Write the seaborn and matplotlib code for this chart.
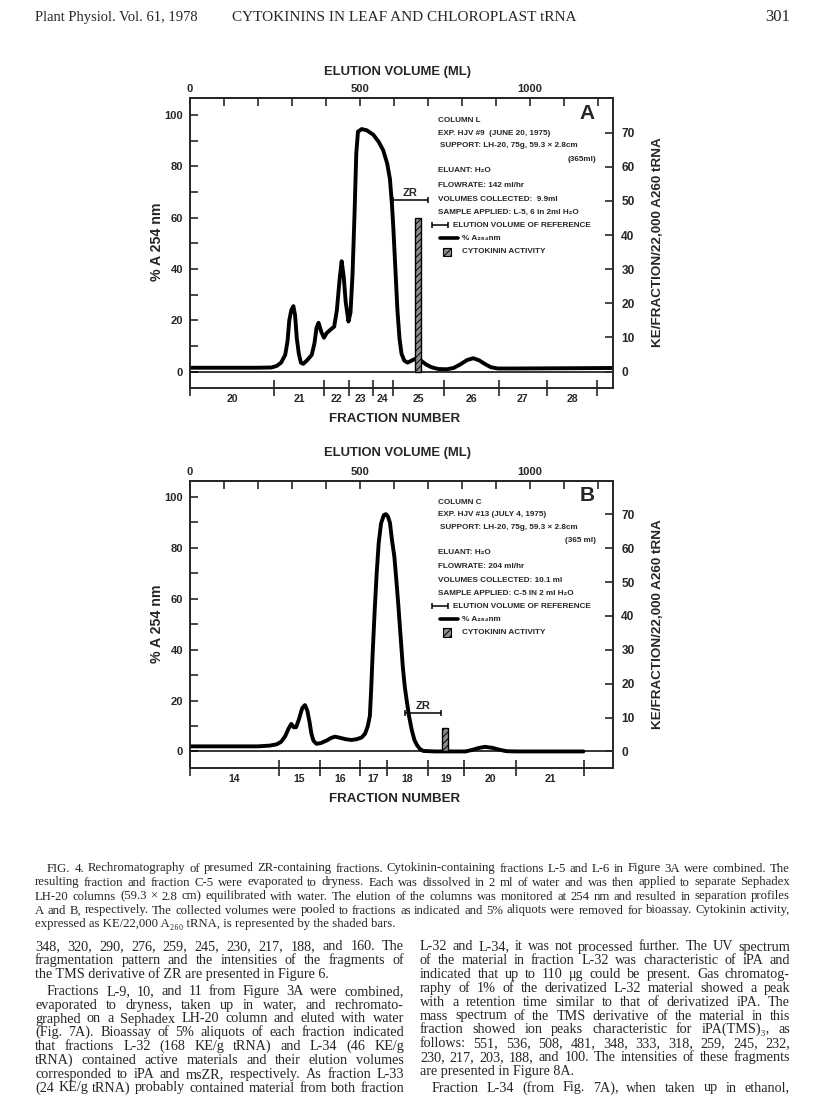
import matplotlib
matplotlib.use("Agg")
import matplotlib.pyplot as plt
import matplotlib.patches as mpatches
import pandas as pd
import seaborn as sns

W, H = 816, 1104

# ---- panel A: column L (elution volume in ml, % A254) ----
a_ml = [0, 200, 240, 255, 268, 280, 287, 292, 298, 304, 309, 314, 320, 326, 333, 345,
        358, 366, 372, 378, 386, 394, 402, 412, 424, 432, 440, 446, 452, 458, 466, 472,
        478, 484, 489, 494, 505, 520, 539, 555, 568, 580, 588, 594, 598, 604, 610, 616,
        622, 630, 640, 655, 668, 680, 695, 710, 730, 755, 775, 795, 815, 833, 850, 868,
        885, 905, 950, 1100, 1244]
a_pct = [1.5, 1.5, 1.6, 2.2, 3.5, 6.5, 12, 20, 24, 25.5, 22, 13, 7, 3.5, 3, 4.5,
         6.5, 11, 17, 19, 15.5, 13.2, 15, 16.2, 17.5, 24, 36, 43, 37, 27, 19.5, 23,
         38, 62, 85, 93.5, 94.5, 94, 92.3, 89.5, 86.3, 81, 75, 65, 56, 40, 24, 13,
         7, 4.3, 3.5, 4.5, 5.3, 4.2, 2.7, 1.7, 1.0, 0.9, 1.4, 2.8, 4.5, 5.2, 4.4, 2.9,
         1.7, 1.2, 1.2, 1.3, 1.4]
a_edges = [0, 247, 395, 468, 537, 596, 747, 909, 1049, 1198]
a_fractions = ["20", "21", "22", "23", "24", "25", "26", "27", "28"]
a_bar_ml = [671]
a_bar_ke = [45]
a_zr = [596, 699]
a_zr_pct = 66.9
a_info = ["COLUMN L", "EXP. HJV #9  (JUNE 20, 1975)", "SUPPORT: LH-20, 75g, 59.3 × 2.8cm",
          "(365ml)", "ELUANT: H₂O", "FLOWRATE: 142 ml/hr", "VOLUMES COLLECTED:  9.9ml",
          "SAMPLE APPLIED: L-5, 6 in 2ml H₂O"]

# ---- panel B: column C ----
b_ml = [0, 200, 235, 255, 268, 280, 290, 298, 305, 312, 320, 330, 338, 345, 351, 357,
        363, 372, 385, 402, 415, 426, 440, 458, 475, 490, 505, 515, 523, 529, 533, 537,
        543, 549, 555, 562, 570, 576, 582, 588, 594, 601, 607, 613, 620, 626, 632, 637,
        644, 652, 660, 667, 676, 686, 720, 810, 830, 850, 868, 890, 912, 931, 960, 1157]
b_pct = [2.0, 2.0, 2.3, 2.8, 3.8, 6, 9, 10.8, 9.5, 9.5, 12.5, 17, 18.2, 16, 12, 7,
         4.2, 3, 3.3, 4.3, 5.3, 5.8, 5.4, 4.8, 4.5, 4.8, 5.5, 7, 10, 14, 25, 38,
         55, 70, 82, 89.6, 92.8, 93.2, 92.3, 89.8, 83, 76.5, 67, 56.9, 44, 33, 25, 20.3,
         14, 8.5, 4.5, 2.6, 1, 0.2, 0, 0, 0.6, 1.4, 1.8, 1.4, 0.6, 0.1, 0, 0]
b_edges = [0, 262, 382, 500, 580, 699, 807, 959, 1159]
b_fractions = ["14", "15", "16", "17", "18", "19", "20", "21"]
b_bar_ml = [749]
b_bar_ke = [7]
b_zr = [632, 738]
b_zr_pct = 15
b_info = ["COLUMN C", "EXP. HJV #13 (JULY 4, 1975)", "SUPPORT: LH-20, 75g, 59.3 × 2.8cm",
          "(365 ml)", "ELUANT: H₂O", "FLOWRATE: 204 ml/hr", "VOLUMES COLLECTED: 10.1 ml",
          "SAMPLE APPLIED: C-5 IN 2 ml H₂O"]

vol_ticks = list(range(0, 1300, 100))
vol_labels = ["0", "", "", "", "", "500", "", "", "", "", "1000", "", ""]
ke_ticks = [0, 10, 20, 30, 40, 50, 60, 70]

SANS = ["Liberation Sans", "DejaVu Sans"]
SERIF = ["Liberation Serif", "DejaVu Serif"]

sns.set_style("ticks")
plt.rcParams["font.family"] = SANS
plt.rcParams["font.weight"] = "bold"
plt.rcParams["hatch.linewidth"] = 0.7

fig = plt.figure(figsize=(W / 100, H / 100), dpi=100)


def fx(x):
    return x / W


def fy(y):
    return 1 - y / H


def panel(top, bottom, ylim, ml, pct, edges, fracs, bar_ml, bar_ke, bar_w, zr, zr_pct, info, tag):
    ax = fig.add_axes([fx(190), fy(bottom), fx(613) - fx(190), fy(top) - fy(bottom)])
    df = pd.DataFrame({"ml": ml, "pct": pct})
    sns.lineplot(data=df, x="ml", y="pct", ax=ax, color="black", lw=2.8,
                 sort=False, estimator=None, solid_joinstyle="round")
    ax.axhline(0, color="black", lw=1.1)
    ax.set_xlim(0, 1244)
    ax.set_ylim(*ylim)
    ax.set_xlabel("")
    ax.set_ylabel("")
    for s in ax.spines.values():
        s.set_linewidth(1.2)
        s.set_visible(True)

    # fraction bar along the bottom
    centers = [(edges[i] + edges[i + 1]) / 2 for i in range(len(fracs))]
    ax.set_xticks(edges)
    ax.set_xticklabels([])
    ax.set_xticks(centers, minor=True)
    ax.set_xticklabels(fracs, minor=True, fontsize=7.6)
    ax.tick_params(axis="x", which="major", direction="inout", length=12, width=1.2)
    ax.tick_params(axis="x", which="minor", length=0, pad=4)

    ax.set_yticks(range(0, 101, 20))
    ax.set_yticks(range(10, 100, 20), minor=True)
    ax.tick_params(axis="y", which="both", direction="in", length=6, width=1.2,
                   labelsize=8, pad=5)

    top_ax = ax.secondary_xaxis("top")
    top_ax.set_xticks(vol_ticks)
    top_ax.set_xticklabels(vol_labels, fontsize=8)
    top_ax.tick_params(direction="in", length=6, width=1.2, pad=3)
    top_ax.spines["top"].set_linewidth(1.2)

    # cytokinin activity on the right axis
    ax2 = ax.twinx()
    ax2.set_ylim(ylim[0] * 0.752, ylim[1] * 0.752)
    ax2.bar(bar_ml, bar_ke, width=bar_w, color="#8c8c8c", edgecolor="black",
            hatch="/////", lw=1)
    ax2.set_yticks(ke_ticks)
    ax2.tick_params(axis="y", direction="in", length=6, width=1.2, labelsize=8.6, pad=6)
    for s in ax2.spines.values():
        s.set_linewidth(1.2)

    # elution volume of reference ZR
    mid = (zr[0] + zr[1]) / 2
    ax.errorbar(mid, zr_pct, xerr=(zr[1] - zr[0]) / 2, color="black", lw=1.1,
                capsize=2.5, capthick=1.1)
    ax.text(mid, zr_pct + 2.8, "ZR", fontsize=8, ha="center", va="center")

    # description block
    fs = 5.9
    ys = [97.8, 92.9, 88, 82.8, 78.2, 72.7, 67.2, 62.1]
    for i, (line, y) in enumerate(zip(info, ys)):
        if i == 3:
            ax.text(1194, y, line, fontsize=fs, ha="right", va="center")
        else:
            ax.text(735 if i == 2 else 730, y, line, fontsize=fs, ha="left", va="center")
    ax.errorbar(735, 57.1, xerr=24, color="black", lw=1.1, capsize=2, capthick=1.1)
    ax.text(774, 57.1, "ELUTION VOLUME OF REFERENCE", fontsize=fs, va="center")
    ax.plot([735, 788], [51.9, 51.9], color="black", lw=2.6)
    ax.text(799, 51.9, "% A₂₅₄nm", fontsize=fs, va="center")
    ax.add_patch(mpatches.Rectangle((744, 45.1), 24, 3.2, facecolor="#8c8c8c",
                                    edgecolor="black", hatch="/////", lw=0.8))
    ax.text(799, 46.7, "CYTOKININ ACTIVITY", fontsize=fs, va="center")
    ax.text(1167, 100.7, tag, fontsize=15, ha="center", va="center")
    return ax


panel(98, 388, (-6.4, 106.6), a_ml, a_pct, a_edges, a_fractions, a_bar_ml, a_bar_ke, 19,
      a_zr, a_zr_pct, a_info, "A")
panel(481, 768, (-6.5, 106.2), b_ml, b_pct, b_edges, b_fractions, b_bar_ml, b_bar_ke, 18,
      b_zr, b_zr_pct, b_info, "B")

# axis titles
for top, mid in [(72, 242), (453, 624)]:
    fig.text(fx(398), fy(top), "ELUTION VOLUME (ML)", fontsize=9.4, ha="center", va="center")
    fig.text(fx(157), fy(mid), "% A 254 nm", fontsize=10.2, ha="center", va="center", rotation=90)
    fig.text(fx(658), fy(mid), "KE/FRACTION/22,000 A260 tRNA", fontsize=9.7, ha="center",
             va="center", rotation=90)
fig.text(fx(395), fy(419), "FRACTION NUMBER", fontsize=9.6, ha="center", va="center")
fig.text(fx(395), fy(799), "FRACTION NUMBER", fontsize=9.6, ha="center", va="center")

# running head
fig.text(fx(35), fy(21), "Plant Physiol. Vol. 61, 1978", fontsize=10.5, family=SERIF,
         weight="normal")
fig.text(fx(232), fy(21), "CYTOKININS IN LEAF AND CHLOROPLAST tRNA", fontsize=11,
         family=SERIF, weight="normal")
fig.text(fx(790), fy(21), "301", fontsize=12, family=SERIF, weight="normal", ha="right")

caption = [
    "FIG. 4. Rechromatography of presumed ZR-containing fractions. Cytokinin-containing fractions L-5 and L-6 in Figure 3A were combined. The",
    "resulting fraction and fraction C-5 were evaporated to dryness. Each was dissolved in 2 ml of water and was then applied to separate Sephadex",
    "LH-20 columns (59.3 × 2.8 cm) equilibrated with water. The elution of the columns was monitored at 254 nm and resulted in separation profiles",
    "A and B, respectively. The collected volumes were pooled to fractions as indicated and 5% aliquots were removed for bioassay. Cytokinin activity,",
    "expressed as KE/22,000 A₂₆₀ tRNA, is represented by the shaded bars.",
]
left_p1 = [
    "348, 320, 290, 276, 259, 245, 230, 217, 188, and 160. The",
    "fragmentation pattern and the intensities of the fragments of",
    "the TMS derivative of ZR are presented in Figure 6.",
]
left_p2 = [
    "Fractions L-9, 10, and 11 from Figure 3A were combined,",
    "evaporated to dryness, taken up in water, and rechromato-",
    "graphed on a Sephadex LH-20 column and eluted with water",
    "(Fig. 7A). Bioassay of 5% aliquots of each fraction indicated",
    "that fractions L-32 (168 KE/g tRNA) and L-34 (46 KE/g",
    "tRNA) contained active materials and their elution volumes",
    "corresponded to iPA and msZR, respectively. As fraction L-33",
    "(24 KE/g tRNA) probably contained material from both fraction",
]
right_p1 = [
    "L-32 and L-34, it was not processed further. The UV spectrum",
    "of the material in fraction L-32 was characteristic of iPA and",
    "indicated that up to 110 μg could be present. Gas chromatog-",
    "raphy of 1% of the derivatized L-32 material showed a peak",
    "with a retention time similar to that of derivatized iPA. The",
    "mass spectrum of the TMS derivative of the material in this",
    "fraction showed ion peaks characteristic for iPA(TMS)₃, as",
    "follows: 551, 536, 508, 481, 348, 333, 318, 259, 245, 232,",
    "230, 217, 203, 188, and 100. The intensities of these fragments",
    "are presented in Figure 8A.",
]
right_p2 = ["Fraction L-34 (from Fig. 7A), when taken up in ethanol,"]

renderer = fig.canvas.get_renderer()


def paragraph(lines, x0, x1, y0, size, step=13.8, indent=0, open_end=False):
    # justified lines, the closing line of a paragraph set flush left
    for i, line in enumerate(lines):
        y = fy(y0 + i * step + 3.5)
        left = x0 + (indent if i == 0 else 0)
        if i == len(lines) - 1 and not open_end:
            fig.text(fx(left), y, line, fontsize=size, family=SERIF, weight="normal",
                     va="baseline")
            continue
        words = line.split(" ")
        arts = [fig.text(0, y, w, fontsize=size, family=SERIF, weight="normal",
                         va="baseline") for w in words]
        widths = [a.get_window_extent(renderer).width for a in arts]
        gap = max((x1 - left - sum(widths)) / max(len(words) - 1, 1), 1.5)
        x = left
        for a, w in zip(arts, widths):
            a.set_x(fx(x))
            x += w + gap


paragraph(caption, 35, 790, 868, 9.2, step=14, indent=12)
paragraph(left_p1, 35, 404, 947, 10.2)
paragraph(left_p2, 35, 404, 947 + 3 * 13.8 + 3, 10.2, indent=12, open_end=True)
paragraph(right_p1, 420, 790, 947, 10.2)
paragraph(right_p2, 420, 790, 947 + 10 * 13.8 + 3, 10.2, indent=12, open_end=True)

fig.savefig("out.png", dpi=100)
